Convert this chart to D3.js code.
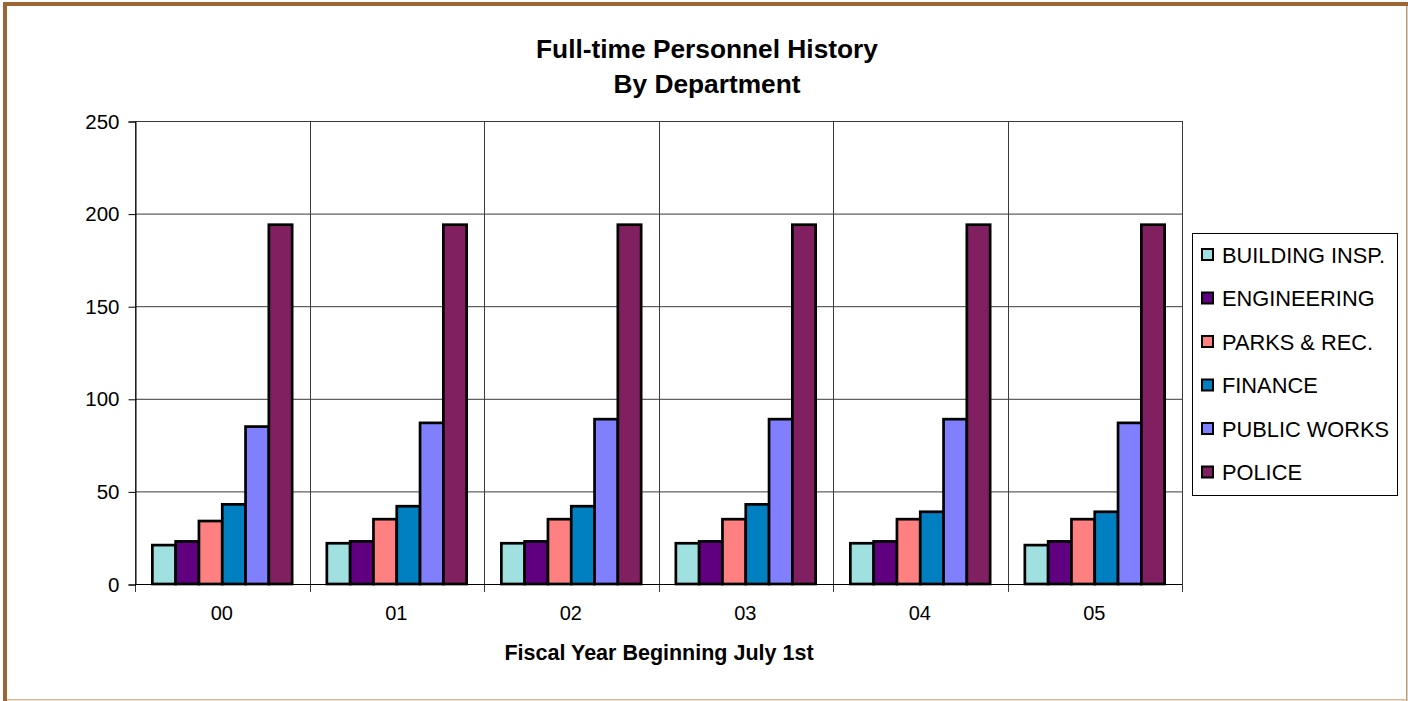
<!DOCTYPE html>
<html>
<head>
<meta charset="utf-8">
<script src="https://cdn.jsdelivr.net/npm/d3@7/dist/d3.min.js"></script>
<style>
  html, body { margin: 0; padding: 0; background: #fff; }
  svg { display: block; font-family: "Liberation Sans", Arial, sans-serif; }
</style>
</head>
<body>
<svg id="chart" width="1408" height="701"></svg>
<script>
// Fiscal years (category labels)
const years = ["00", "01", "02", "03", "04", "05"];
// Departments (series)
const departments = ["BUILDING INSP.", "ENGINEERING", "PARKS & REC.", "FINANCE", "PUBLIC WORKS", "POLICE"];
// Full-time headcount per department, one value per fiscal year
const buildingInsp = [21, 22, 22, 22, 22, 21];
const engineering  = [23, 23, 23, 23, 23, 23];
const parksRec     = [34, 35, 35, 35, 35, 35];
const finance      = [43, 42, 42, 43, 39, 39];
const publicWorks  = [85, 87, 89, 89, 89, 87];
const police       = [194, 194, 194, 194, 194, 194];
const seriesValues = [buildingInsp, engineering, parksRec, finance, publicWorks, police];
const yTicks = [0, 50, 100, 150, 200, 250];
const colors = ["#a0e0e0", "#600080", "#ff8080", "#0080c0", "#8080ff", "#802060"];

const svg = d3.select("#chart");
const W = 1408, H = 701;
const FONT = "'Liberation Sans', Arial, sans-serif";

// Frame around the chart
svg.append("rect").attr("x", 0).attr("y", 0).attr("width", W).attr("height", H).attr("fill", "#fff");
svg.append("rect").attr("x", 3).attr("y", 2).attr("width", W - 3).attr("height", 4).attr("fill", "#9c6632");
svg.append("rect").attr("x", 3).attr("y", 2).attr("width", 4).attr("height", H - 2).attr("fill", "#9c6632");
svg.append("rect").attr("x", 1406).attr("y", 6).attr("width", 1.5).attr("height", H - 6).attr("fill", "#c09a74");
svg.append("rect").attr("x", 7).attr("y", 699).attr("width", W - 7).attr("height", 1.5).attr("fill", "#d8b896");

const plot = { left: 135, right: 1182, top: 121, bottom: 584 };

const x0 = d3.scaleBand().domain(years).range([plot.left, plot.right]).paddingInner(0).paddingOuter(0);
const x1 = d3.scaleBand().domain(departments).range([0, x0.bandwidth()]).paddingInner(0).paddingOuter(0.745);
const y = d3.scaleLinear().domain([0, 250]).range([plot.bottom, plot.top]);

// Horizontal gridlines
svg.append("g").selectAll("line").data(yTicks).join("line")
  .attr("x1", plot.left).attr("x2", plot.right)
  .attr("y1", d => y(d) + 0.5).attr("y2", d => y(d) + 0.5)
  .attr("stroke", "#3a3a3a").attr("stroke-width", 1);

// Vertical gridlines at category boundaries
const bounds = years.map(d => x0(d)).concat([plot.right]);
svg.append("g").selectAll("line").data(bounds).join("line")
  .attr("x1", d => Math.round(d) + 0.5).attr("x2", d => Math.round(d) + 0.5)
  .attr("y1", plot.top).attr("y2", plot.bottom + 8)
  .attr("stroke", "#3a3a3a").attr("stroke-width", 1);

// Y axis
const yAxis = d3.axisLeft(y).tickValues(yTicks).tickSize(7).tickPadding(9);
const gy = svg.append("g").attr("transform", `translate(${plot.left + 0.5},0.5)`).call(yAxis);
gy.select(".domain").attr("stroke", "#000");
gy.selectAll(".tick line").attr("stroke", "#000");
gy.selectAll(".tick text").attr("font-size", 20.5).attr("fill", "#000").attr("font-family", FONT);

// X axis line
svg.append("line").attr("x1", plot.left).attr("x2", plot.right)
  .attr("y1", plot.bottom + 0.5).attr("y2", plot.bottom + 0.5).attr("stroke", "#000");

// X category labels
svg.append("g").selectAll("text").data(years).join("text")
  .attr("x", d => x0(d) + x0.bandwidth() / 2 - 0.5)
  .attr("y", 620)
  .attr("text-anchor", "middle").attr("font-size", 20).attr("fill", "#000")
  .text(d => d);

// Bars
const groups = svg.append("g").selectAll("g").data(years).join("g")
  .attr("transform", d => `translate(${x0(d)},0)`);
groups.selectAll("rect")
  .data((yr, i) => departments.map((dep, j) => ({ dep, j, v: seriesValues[j][i] })))
  .join("rect")
  .attr("x", d => x1(d.dep))
  .attr("width", x1.bandwidth())
  .attr("y", d => y(d.v))
  .attr("height", d => y(0) - y(d.v))
  .attr("fill", d => colors[d.j])
  .attr("stroke", "#000").attr("stroke-width", 2.7);

// Titles
svg.append("text").attr("x", 707).attr("y", 58).attr("text-anchor", "middle")
  .attr("font-size", 26.3).attr("font-weight", "bold").text("Full-time Personnel History");
svg.append("text").attr("x", 707).attr("y", 93).attr("text-anchor", "middle")
  .attr("font-size", 26.3).attr("font-weight", "bold").text("By Department");
svg.append("text").attr("x", 659).attr("y", 660).attr("text-anchor", "middle")
  .attr("font-size", 21.5).attr("font-weight", "bold").text("Fiscal Year Beginning July 1st");

// Legend
const legend = svg.append("g");
legend.append("rect").attr("x", 1192.5).attr("y", 233.5).attr("width", 205).attr("height", 262)
  .attr("fill", "#fff").attr("stroke", "#000").attr("stroke-width", 1);
const items = legend.selectAll("g").data(departments).join("g")
  .attr("transform", (d, i) => `translate(0,${255 + i * 43.5})`);
items.append("rect").attr("x", 1202).attr("y", -6).attr("width", 11).attr("height", 11)
  .attr("fill", (d, i) => colors[i]).attr("stroke", "#000").attr("stroke-width", 2);
items.append("text").attr("x", 1222).attr("y", 7.5).attr("font-size", 21.8).attr("fill", "#000")
  .text(d => d);
</script>
</body>
</html>
